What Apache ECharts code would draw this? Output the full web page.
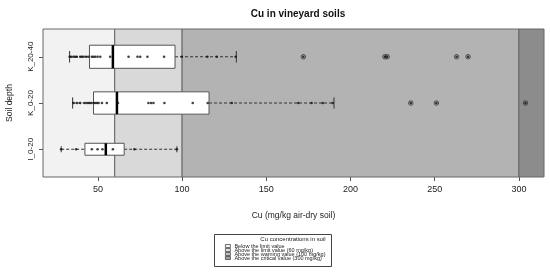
<!DOCTYPE html>
<html>
<head>
<meta charset="utf-8">
<script src="https://cdn.jsdelivr.net/npm/echarts@6/dist/echarts.min.js"></script>
<style>
  html, body { margin: 0; padding: 0; background: #fff; }
  #chart { width: 550px; height: 274px; }
</style>
</head>
<body>
<div id="chart"></div>
<script>
// Cu im Weinbergsboden: horizontaler Boxplot mit Einzelwerten und Grenzwertbereichen
const categories = ['I_0-20', 'K_0-20', 'K_20-40'];

// [min-Whisker, Q1, Median, Q3, max-Whisker]
const boxStats = [
  [28.2, 42.3, 54.7, 65.6, 96.9],
  [35.0, 47.4, 61.3, 116.0, 190.2],
  [33.2, 45.0, 58.9, 95.8, 132.2],
];

// Einzelwerte innerhalb der Whisker
const pointsI020 = [28.2, 37.1, 46.4, 49.8, 52.7, 58.9, 71.7, 96.9];
const pointsK020 = [35.5, 37.5, 39.5, 42.1, 43.5, 44.8, 46.0, 47.4, 48.4, 49.4, 50.4, 52.4,
  55.3, 61.9, 80.0, 81.6, 83.0, 89.5, 106.3, 115.2, 129.5, 169.0, 176.9, 183.5, 189.4];
const pointsK2040 = [33.2, 34.2, 35.5, 36.5, 37.5, 39.5, 40.5, 41.5, 43.0, 44.4, 46.4, 47.4,
  48.4, 49.8, 51.4, 57.3, 68.2, 73.5, 75.1, 79.4, 89.3, 99.8, 115.0, 120.6, 131.8];

// Ausreißer
const outliersI020 = [];
const outliersK020 = [235.8, 251.0, 303.9];
const outliersK2040 = [172.0, 220.4, 221.8, 263.0, 269.8];

const xTicks = [50, 100, 150, 200, 250, 300];
const xMin = 17.4;
const xMax = 314.9;
const limits = [60, 100, 300];
const legendNames = [
  'Below the limit value',
  'Above the limit value (60 mg/kg)',
  'Above the warning value (100 mg/kg)',
  'Above the critical value (300 mg/kg)',
];
const zoneColors = ['#f2f2f2', '#d9d9d9', '#b3b3b3', '#8c8c8c'];

const points = [pointsI020, pointsK020, pointsK2040];
const outliers = [outliersI020, outliersK020, outliersK2040];
const counts = points.map((p, i) => p.length + outliers[i].length);
const maxCount = Math.max(...counts);
const boxWex = 0.5;

const stripData = [];
const outlierData = [];
points.forEach((arr, i) => arr.forEach((v) => stripData.push([v, i + 1])));
outliers.forEach((arr, i) => arr.forEach((v) => {
  outlierData.push([v, i + 1]);
  stripData.push([v, i + 1]);
}));

const boxData = boxStats.map((s, i) => [i + 1, ...s, counts[i]]);

function renderBox(params, api) {
  const y = api.value(0);
  const lo = api.coord([api.value(1), y]);
  const q1 = api.coord([api.value(2), y]);
  const med = api.coord([api.value(3), y]);
  const q3 = api.coord([api.value(4), y]);
  const hi = api.coord([api.value(5), y]);
  const h = api.size([0, boxWex * Math.sqrt(api.value(6) / maxCount)])[1];
  const cy = lo[1];
  const dash = { stroke: '#333', lineWidth: 1, lineDash: [3, 2] };
  const solid = { stroke: '#333', lineWidth: 1 };
  return {
    type: 'group',
    children: [
      { type: 'line', shape: { x1: lo[0], y1: cy, x2: q1[0], y2: cy }, style: dash },
      { type: 'line', shape: { x1: q3[0], y1: cy, x2: hi[0], y2: cy }, style: dash },
      { type: 'line', shape: { x1: lo[0], y1: cy - h / 4, x2: lo[0], y2: cy + h / 4 }, style: solid },
      { type: 'line', shape: { x1: hi[0], y1: cy - h / 4, x2: hi[0], y2: cy + h / 4 }, style: solid },
      {
        type: 'rect',
        shape: { x: q1[0], y: cy - h / 2, width: q3[0] - q1[0], height: h },
        style: { fill: '#fff', stroke: '#555', lineWidth: 1 },
      },
      {
        type: 'line',
        shape: { x1: med[0], y1: cy - h / 2, x2: med[0], y2: cy + h / 2 },
        style: { stroke: '#000', lineWidth: 2.5 },
      },
    ],
  };
}

const zoneEdges = [xMin, ...limits, xMax];
const zones = zoneColors.map((c, i) => [
  { xAxis: zoneEdges[i], itemStyle: { color: c, opacity: 1, borderColor: '#666', borderWidth: 1 } },
  { xAxis: zoneEdges[i + 1] },
]);

const chart = echarts.init(document.getElementById('chart'), null, { renderer: 'canvas' });
chart.setOption({
  animation: false,
  textStyle: { fontFamily: 'Liberation Sans, Arial, sans-serif' },
  title: [
    {
      text: 'Cu in vineyard soils',
      left: 293, top: 4, textAlign: 'center',
      textStyle: { fontSize: 10, fontWeight: 'bold', color: '#111' },
    },
    {
      text: 'Cu concentrations in soil',
      left: 293, top: 236, textAlign: 'center', padding: 0,
      textStyle: { fontSize: 6, fontWeight: 'normal', color: '#222' },
    },
  ],
  graphic: [{
    type: 'rect',
    shape: { x: 214.5, y: 234.5, width: 117, height: 32 },
    style: { fill: 'none', stroke: '#444', lineWidth: 1 },
  }],
  legend: {
    orient: 'vertical',
    left: 225, top: 243,
    padding: 0,
    itemWidth: 5, itemHeight: 3, itemGap: -2,
    data: legendNames.map((n, i) => ({
      name: n,
      icon: 'rect',
      itemStyle: { color: zoneColors[i], borderColor: '#222', borderWidth: 0.8 },
    })),
    textStyle: { fontSize: 5.5, color: '#222', padding: [0, 0, 0, -1] },
  },
  grid: { left: 43, right: 6, top: 29, bottom: 97, outerBoundsMode: 'none', containLabel: false },
  xAxis: {
    type: 'value',
    min: xMin, max: xMax,
    name: 'Cu (mg/kg air-dry soil)',
    nameLocation: 'middle', nameGap: 34,
    nameTextStyle: { fontSize: 8.5, color: '#222' },
    axisLine: { show: false },
    axisTick: { show: true, length: 4, customValues: xTicks, lineStyle: { color: '#555' } },
    axisLabel: { customValues: xTicks, fontSize: 9, color: '#222', margin: 8 },
    splitLine: { show: false },
  },
  yAxis: {
    type: 'value',
    min: 0.4, max: 3.6,
    name: 'Soil depth',
    nameLocation: 'middle', nameGap: 29, nameRotate: 90,
    nameTextStyle: { fontSize: 8.5, color: '#222' },
    axisLine: { show: false },
    axisTick: { show: true, length: 4, customValues: [1, 2, 3], lineStyle: { color: '#555' } },
    axisLabel: {
      customValues: [1, 2, 3],
      formatter: (v) => categories[Math.round(v) - 1],
      rotate: 90, fontSize: 8, color: '#222', margin: 8,
    },
    splitLine: { show: false },
  },
  series: [
    {
      type: 'custom',
      z: 2,
      renderItem: renderBox,
      encode: { x: [1, 2, 3, 4, 5], y: 0 },
      data: boxData,
      silent: true,
      markArea: {
        silent: true,
        z: 1,
        data: zones,
      },
    },
    {
      type: 'scatter',
      z: 3,
      symbol: 'circle',
      symbolSize: 4.5,
      itemStyle: { color: 'rgba(0,0,0,0)', borderColor: '#333', borderWidth: 0.8, opacity: 1 },
      data: outlierData,
    },
    {
      type: 'scatter',
      z: 4,
      symbol: 'circle',
      symbolSize: 2.6,
      itemStyle: { color: '#111' },
      data: stripData,
    },
    ...legendNames.map((n, i) => ({
      type: 'scatter',
      name: n,
      data: [],
      itemStyle: { color: zoneColors[i], borderColor: '#222', borderWidth: 0.8 },
    })),
  ],
});
</script>
</body>
</html>
